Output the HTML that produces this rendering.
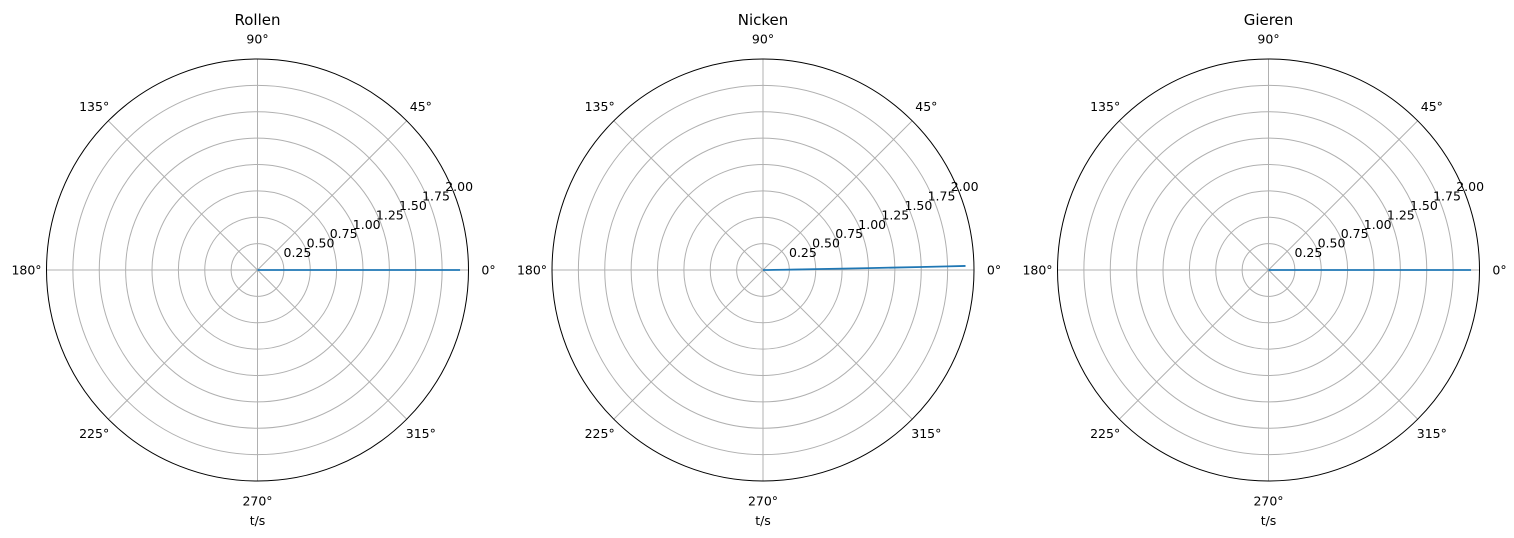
<!DOCTYPE html>
<html><head><meta charset="utf-8"><style>
html,body{margin:0;padding:0;background:#fff;}
svg{display:block;font-family:"DejaVu Sans","Liberation Sans",sans-serif;}
</style></head><body>
<svg id="fig" width="1514" height="538" viewBox="0 0 1514 538" xmlns="http://www.w3.org/2000/svg"></svg>
<script>
const titles = ["Rollen", "Nicken", "Gieren"];
const rTicks = [0.25, 0.5, 0.75, 1.0, 1.25, 1.5, 1.75, 2.0];
const angleTicks = [0, 45, 90, 135, 180, 225, 270, 315];
const times = [0, 0.05, 0.1, 0.2, 0.3, 0.5, 0.75, 1.0, 1.25, 1.5, 1.75, 1.92];
const rollAngles = [0, 0, 0, 0, 0, 0, 0, 0, 0, 0, 0, 0];
const pitchAngles = [0, 0.006, 0.009, 0.012, 0.014, 0.016, 0.017, 0.018, 0.0185, 0.019, 0.0195, 0.02];
const yawAngles = [0, 0, 0, 0, 0, 0, 0, 0, 0, 0, 0, 0];
const series = [rollAngles, pitchAngles, yawAngles];
const rMax = 2.0;

const NS = "http://www.w3.org/2000/svg";
const svg = document.getElementById("fig");
const centers = [257.5, 763, 1268.5];
const cy = 270, R = 211;
function mk(tag, attrs, parent) {
  const e = document.createElementNS(NS, tag);
  for (const k in attrs) e.setAttribute(k, attrs[k]);
  (parent || svg).appendChild(e);
  return e;
}
titles.forEach((title, p) => {
  const cx = centers[p];
  const g = mk("g", {});
  
  
  const rs = r => r / rMax * R;
  const px = (th, r) => cx + rs(r) * Math.cos(th);
  const py = (th, r) => cy - rs(r) * Math.sin(th);
  rTicks.forEach(t => {
    if (t >= rMax) return;
    const c = mk("circle", {cx: cx, cy: cy, r: rs(t), fill: "none", stroke: "#b0b0b0", "stroke-width": 1}, g);
    
    
  });
  angleTicks.forEach(a => {
    const th = a * Math.PI / 180;
    const l = mk("line", {x1: cx, y1: cy, x2: px(th, rMax), y2: py(th, rMax), stroke: "#b0b0b0", "stroke-width": 1}, g);
    
    
    const tx = mk("text", {x: cx + (R + 20) * Math.cos(th), y: cy - (R + 20) * Math.sin(th) + 4.5, "text-anchor": "middle", "font-size": 12.5, fill: "#000"}, g);
    tx.textContent = a + "°";
    
    
  });
  const fr = mk("circle", {cx: cx, cy: cy, r: R, fill: "none", stroke: "#000", "stroke-width": 1}, g);
  
  
  rTicks.forEach((t, i) => {
    const tx = mk("text", {x: cx + 26 + i * 23.1, y: cy - 13 - i * 9.4, "font-size": 12.5, fill: "#000"}, g);
    tx.textContent = t.toFixed(2);
    
    
  });
  const vals = series[p];
  const pts = times.map((t, i) => px(vals[i], t).toFixed(2) + "," + py(vals[i], t).toFixed(2)).join(" ");
  const pl = mk("polyline", {points: pts, fill: "none", stroke: "#1f77b4", "stroke-width": 1.8}, g);
  
  
  const ti = mk("text", {x: cx, y: 25, "text-anchor": "middle", "font-size": 15, fill: "#000"}, g);
  ti.textContent = title;
  
  
  const xl = mk("text", {x: cx, y: 525, "text-anchor": "middle", "font-size": 12.5, fill: "#000"}, g);
  xl.textContent = "t/s";
  
  
});
</script>
</body></html>
